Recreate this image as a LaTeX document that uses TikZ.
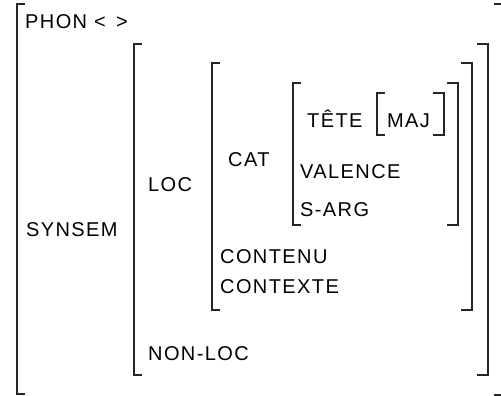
\documentclass[tikz,border=0pt]{standalone}
\usepackage{fontspec}
\setmainfont{Liberation Sans}[LetterSpace=7.0]
\usepackage{tikz}
\usetikzlibrary{positioning}

\begin{document}
\begin{tikzpicture}[x=1pt, y=-1pt,
    feat/.style={anchor=base west, inner sep=0pt, font=\fontsize{20}{24}\selectfont},
    brk/.style={draw=black!85, line width=1.8pt}]
    \useasboundingbox (0,0) rectangle (501,396);
    % left brackets: x / top / bottom
    \foreach \x/\t/\b in {17/4/394, 134/44/375, 212/63/310, 293/83/225, 377/93/135}
        \draw[brk] (\x+8,\t) -- (\x,\t) -- (\x,\b) -- (\x+8,\b);
    % right brackets
    \foreach \x/\t/\b in {505/4/395, 488/44/375, 472/63/310, 458/83/225, 444/93/135}
        \draw[brk] (\x-11,\t) -- (\x,\t) -- (\x,\b) -- (\x-11,\b);
    % features
    \node[feat] (phon) at (25,29) {PHON < \,>};
    \node[feat] (synsem) at (26,236) {SYNSEM};
    \node[feat] (loc) at (148,191) {LOC};
    \node[feat] (nonloc) at (148,360) {NON-LOC};
    \node[feat] (cat) at (228,166) {CAT};
    \node[feat] (contenu) at (220,263) {CONTENU};
    \node[feat] (contexte) at (220,293) {CONTEXTE};
    \node[feat] (tete) at (307,127) {TÊTE};
    \node[feat] (maj) at (387,127) {MAJ};
    \node[feat] (valence) at (300,178) {VALENCE};
    \node[feat] (sarg) at (300,216) {S-ARG};
\end{tikzpicture}
\end{document}
